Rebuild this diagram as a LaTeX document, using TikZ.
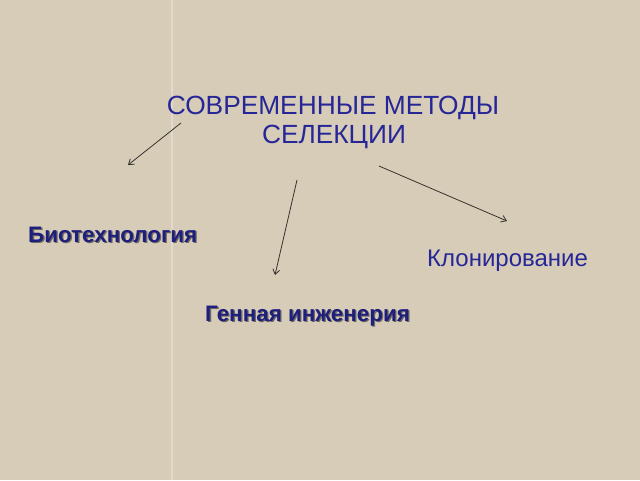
\documentclass[tikz,border=0pt]{standalone}
\usepackage{fontspec}
\setmainfont{Liberation Sans}
\usetikzlibrary{arrows.meta}
\definecolor{bg}{RGB}{214,204,184}
\definecolor{bgline}{RGB}{226,219,203}
\definecolor{titleblue}{RGB}{38,38,150}
\definecolor{navy}{RGB}{30,30,125}
\definecolor{shadowc}{RGB}{110,105,100}
\definecolor{arrowc}{RGB}{55,50,45}
\tikzset{
  titletext/.style={text=titleblue,font=\fontsize{26.3}{30}\selectfont,inner sep=0pt,anchor=base},
  boldlabel/.style={text=navy,font=\fontsize{22.4}{26}\bfseries,inner sep=0pt,anchor=base west},
  labelshadow/.style={text=shadowc,font=\fontsize{22.4}{26}\bfseries,inner sep=0pt,anchor=base west},
  plainlabel/.style={text=titleblue,font=\fontsize{24}{28}\selectfont,inner sep=0pt,anchor=base west},
  conn/.style={draw=arrowc,line width=0.8pt,-{Straight Barb[length=5pt,width=7pt]}}
}
\begin{document}
\begin{tikzpicture}[x=1pt,y=-1pt]
\fill[bg] (0,0) rectangle (640,480);
\useasboundingbox (0,0) rectangle (640,480);
\draw[bgline,line width=1.2pt] (172,0) -- (172,480);
\node[titletext] (title1) at (333,114) {СОВРЕМЕННЫЕ МЕТОДЫ};
\node[titletext] (title2) at (334,143) {СЕЛЕКЦИИ};
\node[labelshadow] (bioS) at (29.3,243.3) {Биотехнология};
\node[boldlabel] (bio) at (28,242) {Биотехнология};
\node[plainlabel] (klon) at (427,266) {Клонирование};
\node[labelshadow] (genS) at (206.3,322.3) {Генная инженерия};
\node[boldlabel] (gen) at (205,321) {Генная инженерия};
\coordinate (s1) at (181,123);
\coordinate (e1) at (128,165);
\coordinate (s2) at (297,180);
\coordinate (e2) at (275,275);
\coordinate (s3) at (379,166);
\coordinate (e3) at (507,221);
\draw[conn] (s1) -- (e1);
\draw[conn] (s2) -- (e2);
\draw[conn] (s3) -- (e3);
\end{tikzpicture}
\end{document}
